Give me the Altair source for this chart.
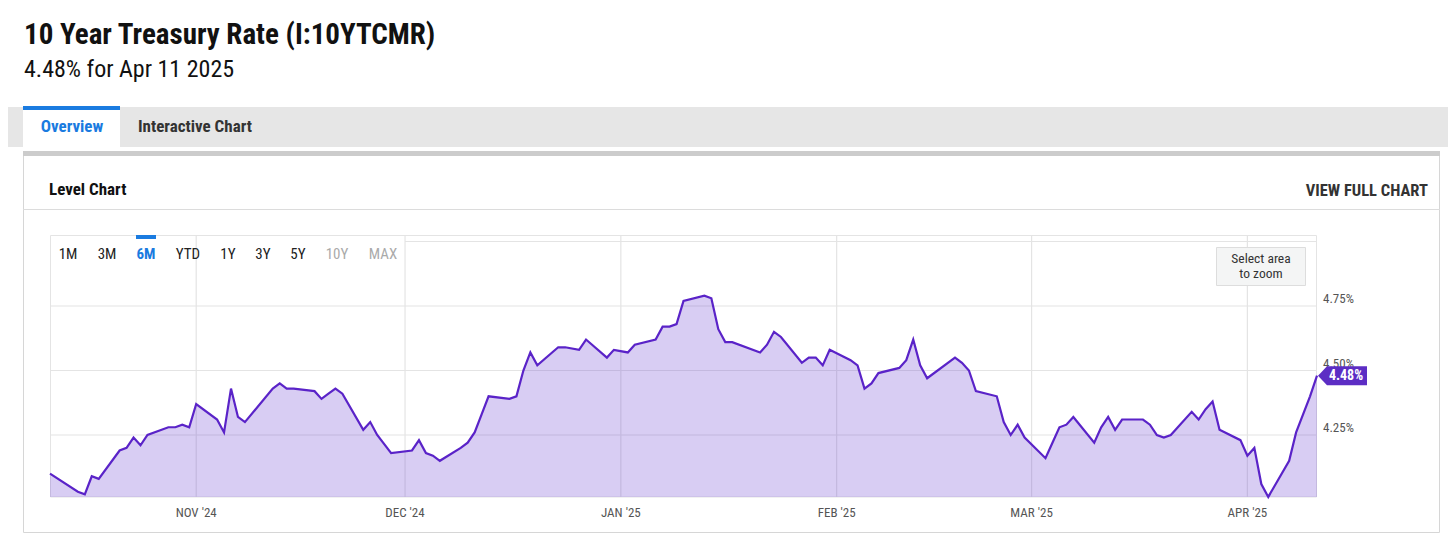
import altair as alt
import pandas as pd

# ---------------- data ----------------
dates = [
    "2024-10-11", "2024-10-15", "2024-10-16", "2024-10-17", "2024-10-18",
    "2024-10-21", "2024-10-22", "2024-10-23", "2024-10-24", "2024-10-25",
    "2024-10-28", "2024-10-29", "2024-10-30", "2024-10-31", "2024-11-01",
    "2024-11-04", "2024-11-05", "2024-11-06", "2024-11-07", "2024-11-08",
    "2024-11-12", "2024-11-13", "2024-11-14", "2024-11-15", "2024-11-18",
    "2024-11-19", "2024-11-20", "2024-11-21", "2024-11-22", "2024-11-25",
    "2024-11-26", "2024-11-27", "2024-11-29", "2024-12-02", "2024-12-03",
    "2024-12-04", "2024-12-05", "2024-12-06", "2024-12-09", "2024-12-10",
    "2024-12-11", "2024-12-12", "2024-12-13", "2024-12-16", "2024-12-17",
    "2024-12-18", "2024-12-19", "2024-12-20", "2024-12-23", "2024-12-24",
    "2024-12-26", "2024-12-27", "2024-12-30", "2024-12-31", "2025-01-02",
    "2025-01-03", "2025-01-06", "2025-01-07", "2025-01-08", "2025-01-09",
    "2025-01-10", "2025-01-13", "2025-01-14", "2025-01-15", "2025-01-16",
    "2025-01-17", "2025-01-21", "2025-01-22", "2025-01-23", "2025-01-24",
    "2025-01-27", "2025-01-28", "2025-01-29", "2025-01-30", "2025-01-31",
    "2025-02-03", "2025-02-04", "2025-02-05", "2025-02-06", "2025-02-07",
    "2025-02-10", "2025-02-11", "2025-02-12", "2025-02-13", "2025-02-14",
    "2025-02-18", "2025-02-19", "2025-02-20", "2025-02-21", "2025-02-24",
    "2025-02-25", "2025-02-26", "2025-02-27", "2025-02-28", "2025-03-03",
    "2025-03-04", "2025-03-05", "2025-03-06", "2025-03-07", "2025-03-10",
    "2025-03-11", "2025-03-12", "2025-03-13", "2025-03-14", "2025-03-17",
    "2025-03-18", "2025-03-19", "2025-03-20", "2025-03-21", "2025-03-24",
    "2025-03-25", "2025-03-26", "2025-03-27", "2025-03-28", "2025-03-31",
    "2025-04-01", "2025-04-02", "2025-04-03", "2025-04-04", "2025-04-07",
    "2025-04-08", "2025-04-09", "2025-04-10", "2025-04-11",
]
rates = [
    4.10, 4.03, 4.02, 4.09, 4.08,
    4.19, 4.20, 4.24, 4.21, 4.25,
    4.28, 4.28, 4.29, 4.28, 4.37,
    4.31, 4.26, 4.43, 4.32, 4.30,
    4.43, 4.45, 4.43, 4.43, 4.42,
    4.39, 4.41, 4.43, 4.41, 4.27,
    4.30, 4.25, 4.18, 4.19, 4.23,
    4.18, 4.17, 4.15, 4.20, 4.22,
    4.26, 4.33, 4.40, 4.39, 4.40,
    4.50, 4.57, 4.52, 4.59, 4.59,
    4.58, 4.62, 4.55, 4.58, 4.57,
    4.60, 4.62, 4.67, 4.67, 4.68,
    4.77, 4.79, 4.78, 4.66, 4.61,
    4.61, 4.57, 4.60, 4.65, 4.63,
    4.53, 4.55, 4.55, 4.52, 4.58,
    4.54, 4.52, 4.43, 4.45, 4.49,
    4.51, 4.54, 4.62, 4.52, 4.47,
    4.55, 4.53, 4.50, 4.42, 4.40,
    4.30, 4.25, 4.29, 4.24, 4.16,
    4.22, 4.28, 4.29, 4.32, 4.22,
    4.28, 4.32, 4.27, 4.31, 4.31,
    4.29, 4.25, 4.24, 4.25, 4.34,
    4.31, 4.35, 4.38, 4.27, 4.23,
    4.17, 4.20, 4.06, 4.01, 4.15,
    4.26, 4.33, 4.40, 4.48,
]
tick_values = [4.25, 4.50, 4.75]
tick_labels = ["4.25%", "4.50%", "4.75%"]
month_dates = ["2024-11-01", "2024-12-01", "2025-01-01", "2025-02-01", "2025-03-01", "2025-04-01"]
month_labels = ["NOV '24", "DEC '24", "JAN '25", "FEB '25", "MAR '25", "APR '25"]
range_labels = ["1M", "3M", "6M", "YTD", "1Y", "3Y", "5Y", "10Y", "MAX"]
last_label = "4.48%"

# ---------------- styling / layout ----------------
OFF = 8
def px(v):
    return v - OFF

FONT = "Roboto Condensed, Liberation Sans Narrow, Arial Narrow, Roboto, sans-serif"
BLUE = "#1a7be0"
LINE = "#5a23c8"
FILL = "#6a3fd0"
GRID = "#e4e4e4"

# plot frame (screen pixels)
PX0, PX1 = 50, 1317
PY_TOP, PY_BOT = 235, 497
Y_425, Y_475 = 435, 306

xscale = alt.Scale(
    type="utc",
    domain=[alt.DateTime(year=2024, month=10, date=11, utc=True),
            alt.DateTime(year=2025, month=4, date=11, utc=True)],
    range=[px(PX0), px(PX1)],
)
yscale = alt.Scale(domain=[4.25, 4.75], range=[px(Y_425), px(Y_475)], zero=False, nice=False)
# value at the bottom edge of the plot frame
BASE = 4.25 - (PY_BOT - Y_425) * 0.5 / (Y_425 - Y_475)

blank = alt.Data(values=[{}])


def rect(x1, y1, x2, y2, **kw):
    return alt.Chart(blank).mark_rect(**kw).encode(
        x=alt.value(px(x1)), x2=alt.value(px(x2)),
        y=alt.value(px(y1)), y2=alt.value(px(y2)),
    )


def hline(x1, x2, y, color, width=1):
    return alt.Chart(blank).mark_rule(color=color, strokeWidth=width).encode(
        x=alt.value(px(x1)), x2=alt.value(px(x2)), y=alt.value(px(y))
    )


def label(text, x, y, size, color="#222", weight="normal", align="left"):
    return alt.Chart(blank).mark_text(
        text=text, font=FONT, fontSize=size, fontWeight=weight, color=color,
        align=align, baseline="middle",
    ).encode(x=alt.value(px(x)), y=alt.value(px(y)))


layers = []
# header
layers.append(label("10 Year Treasury Rate (I:10YTCMR)", 24, 35, 29, "#111", "bold"))
layers.append(label("4.48% for Apr 11 2025", 24, 70, 24, "#111"))
# tab bar
layers.append(rect(0, 107, 1456, 147, fill="#e6e6e6"))
layers.append(rect(23, 109, 120, 147, fill="#ffffff"))
layers.append(rect(23, 106, 120, 110, fill=BLUE))
layers.append(label("Overview", 72, 127, 17, BLUE, "bold", "center"))
layers.append(label("Interactive Chart", 138, 127, 17, "#333", "bold"))
# panel
layers.append(rect(23.5, 151.5, 1439.5, 532.5, fill="#ffffff", stroke="#d6d6d6", strokeWidth=1))
layers.append(rect(23, 151, 1440, 156, fill="#cccccc"))
layers.append(label("Level Chart", 49, 190, 17, "#111", "bold"))
layers.append(label("VIEW FULL CHART", 1428, 191, 16.5, "#333", "bold", "right"))
layers.append(hline(23, 1440, 209.5, "#dcdcdc"))

# plot frame and grid
layers.append(rect(PX0 + 0.5, PY_TOP + 0.5, PX1 - 0.5, PY_BOT, fillOpacity=0, stroke=GRID, strokeWidth=1))
layers.append(hline(405, PX1, 241.5, GRID))

grid_y = pd.DataFrame({"v": tick_values, "l": tick_labels})
grid_x = pd.DataFrame({"d": month_dates, "l": month_labels})

layers.append(
    alt.Chart(grid_y).mark_rule(color=GRID, strokeWidth=1.2).encode(
        y=alt.Y("v:Q", scale=yscale, axis=None),
        x=alt.value(px(PX0)), x2=alt.value(px(PX1)),
    )
)
layers.append(
    alt.Chart(grid_x).mark_rule(color=GRID, strokeWidth=1.2).encode(
        x=alt.X("d:T", scale=xscale, axis=None),
        y=alt.value(px(PY_TOP)), y2=alt.value(px(PY_BOT)),
    )
)

df = pd.DataFrame({"date": dates, "rate": rates})
layers.append(
    alt.Chart(df).mark_area(color=FILL, opacity=0.26).encode(
        x=alt.X("date:T", scale=xscale, axis=None),
        y=alt.Y("rate:Q", scale=yscale, axis=None),
        y2=alt.datum(BASE),
    )
)
layers.append(
    alt.Chart(df).mark_line(color=LINE, strokeWidth=2.2).encode(
        x=alt.X("date:T", scale=xscale, axis=None),
        y=alt.Y("rate:Q", scale=yscale, axis=None),
    )
)

# axis labels
layers.append(
    alt.Chart(grid_y).mark_text(font=FONT, fontSize=13, color="#555", align="left",
                                baseline="middle", dy=-7).encode(
        y=alt.Y("v:Q", scale=yscale, axis=None),
        x=alt.value(px(1323)),
        text="l:N",
    )
)
layers.append(
    alt.Chart(grid_x).mark_text(font=FONT, fontSize=13, color="#555", align="center",
                                baseline="middle").encode(
        x=alt.X("d:T", scale=xscale, axis=None),
        y=alt.value(px(513)),
        text="l:N",
    )
)

# range buttons
btn_x = [68, 107, 146, 188, 228, 263, 298, 337, 383]
for lab, bx in zip(range_labels, btn_x):
    if lab == "6M":
        layers.append(label(lab, bx, 254, 15, BLUE, "bold", "center"))
    elif lab in ("10Y", "MAX"):
        layers.append(label(lab, bx, 254, 15, "#aaaaaa", "normal", "center"))
    else:
        layers.append(label(lab, bx, 254, 15, "#222", "normal", "center"))
layers.append(rect(136, 235, 156, 239, fill=BLUE))

# select area box
layers.append(rect(1216.5, 247.5, 1305.5, 285.5, fill="#f4f5f5", stroke="#dddddd", strokeWidth=1))
layers.append(label("Select area", 1261, 259, 13.5, "#333", "normal", "center"))
layers.append(label("to zoom", 1261, 274, 13.5, "#333", "normal", "center"))

# last value tag
tag = pd.DataFrame({"rate": [rates[-1]], "l": [last_label]})
tag_path = "M -1 0 L -0.633 -0.388 L 1 -0.388 L 1 0.388 L -0.633 0.388 Z"
layers.append(
    alt.Chart(tag).mark_point(shape=tag_path, size=49 * 49, filled=True, fill="#5c2dc4",
                              opacity=1, strokeWidth=0).encode(
        x=alt.value(px(1342.5)),
        y=alt.Y("rate:Q", scale=yscale, axis=None),
    )
)
layers.append(
    alt.Chart(tag).mark_text(font=FONT, fontSize=14, fontWeight="bold", color="#ffffff",
                             align="center", baseline="middle").encode(
        x=alt.value(px(1346)),
        y=alt.Y("rate:Q", scale=yscale, axis=None),
        text="l:N",
    )
)

chart = alt.layer(*layers).properties(
    width=1440, height=542, padding=0,
    autosize=alt.AutoSizeParams(type="none"),
    background="#ffffff",
).configure_view(strokeWidth=0)

chart.save("out.html", embed_options={"renderer": "svg", "actions": False})
